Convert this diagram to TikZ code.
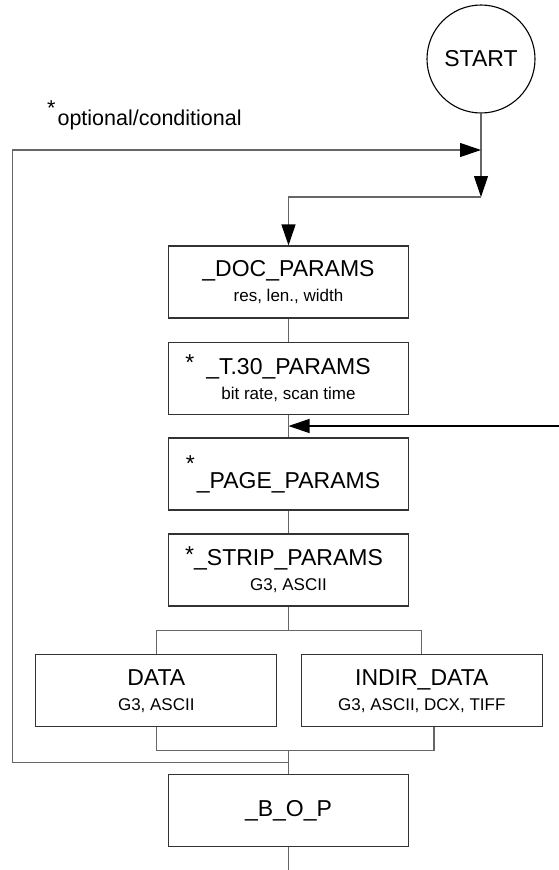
\documentclass[tikz,border=0pt]{standalone}
\usepackage{fontspec}
\setmainfont{Liberation Sans}
\usetikzlibrary{arrows.meta}

\newcommand\boxsub{\fontsize{17}{20}\selectfont}

\begin{document}
\begin{tikzpicture}[x=1pt,y=-1pt,
  box/.style={draw=black!80, line width=1.1pt, minimum width=240pt, minimum height=72pt,
    inner sep=0pt, align=center, font=\fontsize{23}{25}\selectfont},
  wire/.style={draw=black!60, line width=1.1pt},
  headed/.style={-{Triangle[length=21pt,width=14pt,black]}}]

\def\cx{288.5}

\path [use as bounding box] (0,0) rectangle (559,870);

% START
\node [draw, circle, line width=1.1pt, minimum size=108pt, inner sep=0pt,
  font=\fontsize{23}{25}\selectfont] (start) at (481,59) {START};

% NOTE
\node [anchor=base west, inner sep=0pt, font=\fontsize{21.5}{24}\selectfont]
  (note) at (47,125) {\raisebox{10pt}{*}\kern2pt optional/conditional};

% BOXES
\node [box] (doc) at (\cx,282) {\_DOC\_PARAMS\\{\boxsub res, len., width}};
\node [box] (t30) at (\cx,378.3) {\leavevmode\llap{\raisebox{4pt}{*}\hspace{12pt}}\_T.30\_PARAMS\\{\boxsub bit rate, scan time}};
\node [box] (page) at (\cx,474) {\leavevmode\llap{\raisebox{17pt}{*}\hspace{2pt}}\_PAGE\_PARAMS};
\node [box] (strip) at (\cx,570) {\leavevmode\llap{\raisebox{3pt}{*}}\_STRIP\_PARAMS\\{\boxsub G3, ASCII}};
\node [box, minimum width=241pt] (data) at (156.3,690.7) {DATA\\{\boxsub G3, ASCII}};
\node [box, minimum width=241pt] (indir) at (421.8,690.7) {INDIR\_DATA\\{\boxsub G3, ASCII, DCX, TIFF}};
\node [box] (bop) at (\cx,810.6) {\_B\_O\_P};

% JUNCTIONS
\coordinate (turn) at (481,197);
\coordinate (entry) at (481,150);
\coordinate (side) at (559,426);
\coordinate (join) at (\cx,426);
\coordinate (split) at (\cx,630.7);
\coordinate (merge) at (\cx,750.5);
\coordinate (back) at (\cx,762.7);
\coordinate (backlow) at (12.5,762.7);
\coordinate (backhigh) at (12.5,150);
\coordinate (exit) at (\cx,870);

% FLOW
\draw [wire, headed] (start) -- (turn);
\draw [wire, headed] (turn) -| (doc);
\draw [wire] (doc) -- (t30);
\draw [wire] (t30) -- (page);
\draw [line width=1.1pt, headed] (side) -- (join);
\draw [wire] (page) -- (strip);
\draw [wire] (strip) -- (split);
\draw [wire] (data) |- (split) -| (indir);
\draw [wire] (data) |- (merge) -| ([xshift=12.2pt]indir.south);
\draw [wire] (merge) -- (bop);
\draw [wire] (bop) -- (exit);

% LOOP
\draw [wire, headed] (back) -- (backlow) -- (backhigh) -- (entry);

\end{tikzpicture}
\end{document}
